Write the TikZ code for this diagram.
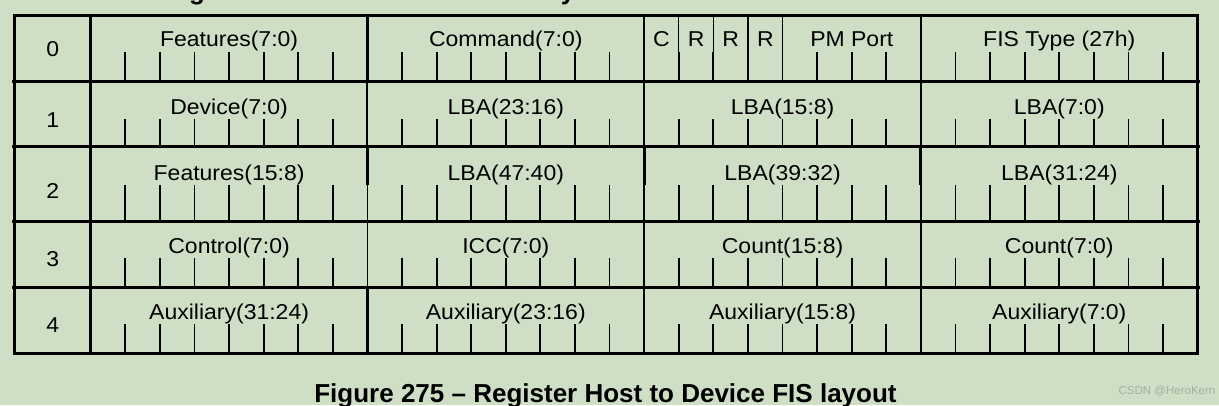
\documentclass[tikz,border=0pt]{standalone}
\usepackage{fontspec}
\setmainfont{Liberation Sans}
\newfontfamily\fieldfont[FakeStretch=1.07]{Liberation Sans}
\definecolor{bg}{RGB}{207,223,198}
\definecolor{wm}{RGB}{163,174,162}
\begin{document}
\begin{tikzpicture}[x=1pt,y=-1pt,
  txt/.style={anchor=base,inner sep=0pt,font=\fieldfont\fontsize{21.5}{24}\selectfont},
  captxt/.style={anchor=base,inner sep=0pt,font=\bfseries\fontsize{26}{30}\selectfont},
  wmtxt/.style={anchor=base,inner sep=0pt,text=wm,font=\fontsize{11.5}{13}\selectfont},
  frame/.style={line width=3pt},
  bittick/.style={line width=1.8pt},
  thinsep/.style={line width=1.5pt}]
\fill[bg] (0,0) rectangle (1219,405);
\useasboundingbox (0,0) rectangle (1219,405);

% clipped title fragments at the top
\node[captxt] (tg) at (197,-0.5) {g};
\node[captxt] (ty) at (568,-0.5) {y};

% bit ticks
\foreach \top/\ts/\bot in {15.7/51.7/81, 81/119/146.7, 146.7/185/221, 221/258/287, 287/324/353.5}{
  \foreach \b in {1,...,7,9,10,...,15,17,18,...,23,25,26,...,31}{
    \draw[bittick] ({90.7+34.59*\b},\ts) -- ({90.7+34.59*\b},\bot);
  }
}
% row 0: full-height bit separators C|R|R|R|PM Port
\foreach \b in {17,18,19,20}{
  \draw[thinsep] ({90.7+34.59*\b},15.7) -- ({90.7+34.59*\b},81);
}

% field separators
\foreach \top/\bot/\wa/\wb/\wc in {15.7/81/2.8/1.9/1.2, 81/146.7/2.0/1.9/1.3, 221/287/1.8/1.8/1.2, 287/353.5/2.6/1.9/1.2}{
  \draw[line width=\wa pt] (367.45,\top) -- (367.45,\bot);
  \draw[line width=\wb pt] (644.2,\top) -- (644.2,\bot);
  \draw[line width=\wc pt] (920.95,\top) -- (920.95,\bot);
}
\foreach \x in {367.45,644.2,920.95}{
  \draw[line width=3pt] (\x,146.7) -- (\x,185);
  \draw[thinsep] (\x,185) -- (\x,221);
}

% frame and row lines
\draw[frame] (14.7,15.7) rectangle (1197.7,353.5);
\draw[frame] (90.7,15.7) -- (90.7,353.5);
\foreach \y in {81,146.7,221,287}{
  \draw[frame] (12,\y) -- (1199.5,\y);
}

% row numbers
\node[txt] (n0) at (52.7,56) {0};
\node[txt] (n1) at (52.7,127.3) {1};
\node[txt] (n2) at (52.7,198.3) {2};
\node[txt] (n3) at (52.7,266.7) {3};
\node[txt] (n4) at (52.7,332.7) {4};

% row 0
\node[txt] (r0a) at (229.1,46.7) {Features(7:0)};
\node[txt] (r0b) at (505.8,46.7) {Command(7:0)};
\node[txt] (r0c) at (661.5,46.7) {C};
\node[txt] (r0r1) at (696.1,46.7) {R};
\node[txt] (r0r2) at (730.7,46.7) {R};
\node[txt] (r0r3) at (765.3,46.7) {R};
\node[txt] (r0pm) at (851.8,46.7) {PM Port};
\node[txt] (r0d) at (1059.3,46.7) {FIS Type (27h)};
% row 1
\node[txt] (r1a) at (229.1,114) {Device(7:0)};
\node[txt] (r1b) at (505.8,114) {LBA(23:16)};
\node[txt] (r1c) at (782.6,114) {LBA(15:8)};
\node[txt] (r1d) at (1059.3,114) {LBA(7:0)};
% row 2
\node[txt] (r2a) at (229.1,180) {Features(15:8)};
\node[txt] (r2b) at (505.8,180) {LBA(47:40)};
\node[txt] (r2c) at (782.6,180) {LBA(39:32)};
\node[txt] (r2d) at (1059.3,180) {LBA(31:24)};
% row 3
\node[txt] (r3a) at (229.1,253) {Control(7:0)};
\node[txt] (r3b) at (505.8,253) {ICC(7:0)};
\node[txt] (r3c) at (782.6,253) {Count(15:8)};
\node[txt] (r3d) at (1059.3,253) {Count(7:0)};
% row 4
\node[txt] (r4a) at (229.1,319) {Auxiliary(31:24)};
\node[txt] (r4b) at (505.8,319) {Auxiliary(23:16)};
\node[txt] (r4c) at (782.6,319) {Auxiliary(15:8)};
\node[txt] (r4d) at (1059.3,319) {Auxiliary(7:0)};

% caption and watermark
\node[captxt] (caption) at (605.5,402) {Figure 275 – Register Host to Device FIS layout};
\node[wmtxt] (wmark) at (1167,394) {CSDN @HeroKern};
\end{tikzpicture}
\end{document}
